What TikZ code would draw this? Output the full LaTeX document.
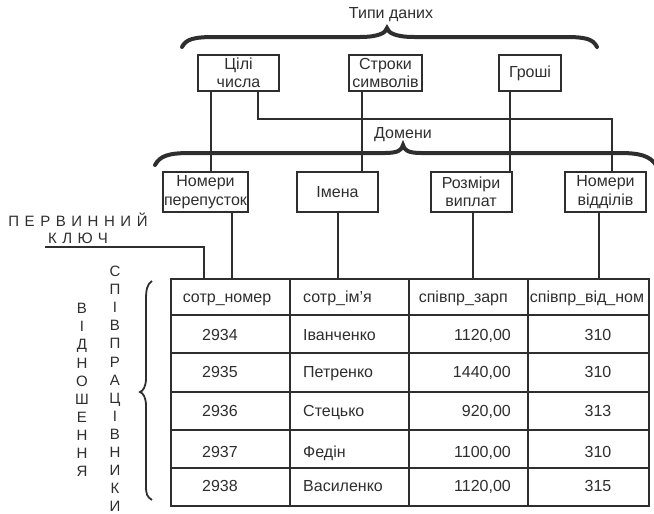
\documentclass[tikz,border=0pt]{standalone}
\usepackage{fontspec}
\setmainfont{Liberation Sans}
\newfontfamily\spacedfont[LetterSpace=37]{Liberation Sans}
\usepackage{tikz}
\usetikzlibrary{positioning}
\definecolor{ink}{HTML}{2E2E2E}

\begin{document}
\begin{tikzpicture}[
    x=1pt, y=-1pt,
    every node/.style={text=ink, font=\fontsize{16}{18.5}\selectfont},
    typebox/.style={draw=ink, line width=2pt, align=center,
                    minimum height=36pt, inner sep=1pt},
    dombox/.style={draw=ink, line width=2pt, align=center,
                   minimum width=81pt, minimum height=40pt, inner sep=1pt},
    wire/.style={draw=ink, line width=2pt},
    brace/.style={draw=ink, line width=4pt, line cap=round},
    cell/.style={inner sep=0pt, text height=11.5pt, text depth=0pt},
    letters/.style={align=center, inner sep=0pt,
                    font=\fontsize{15}{18.1}\selectfont},
]
\useasboundingbox (0,0) rectangle (654,514);

%% Типи даних
\node at (391,15) (types) {Типи даних};
\draw[brace] (182,47) .. controls (186,39) and (194,37) .. (215,37) -- (360,37)
    .. controls (378,37) and (386,33) .. (387,28)
    .. controls (388,33) and (396,37) .. (414,37) -- (565,37)
    .. controls (586,37) and (593,39) .. (597,47);
\node[typebox, minimum width=81pt] at (238.5,73) (tsili)  {Цілі\\числа};
\node[typebox, minimum width=73pt] at (385.5,73) (stroky) {Строки\\символів};
\node[typebox, minimum width=62pt] at (530,73)   (groshi) {Гроші};

%% Домени
\node at (403,135) (domains) {Домени};
\draw[brace] (155,165) .. controls (160,156) and (168,153) .. (190,153) -- (385,153)
    .. controls (398,153) and (402,150) .. (403,145)
    .. controls (404,150) and (408,153) .. (421,153) -- (620,153)
    .. controls (640,153) and (650,156) .. (656,165);
\node[dombox] at (205.5,192) (nomper) {Номери\\перепусток};
\node[dombox] at (337.5,192) (imena)  {Імена};
\node[dombox] at (471,192)   (rozmir) {Розміри\\виплат};
\node[dombox] at (605.5,192) (nomvid) {Номери\\відділів};

%% тип -> домен
\draw[wire] (tsili.south west) ++(14,0) coordinate (t1) -- (t1 |- nomper.north);
\draw[wire] (tsili.south east) ++(-22,0) coordinate (t2) -- ++(0,27)
    -| ([xshift=6pt]nomvid.north);
\draw[wire] (stroky.south) ++(-23.5,0) coordinate (t3) -- (t3 |- imena.north);
\draw[wire] (groshi.south) ++(-20,0) coordinate (t4) -- (t4 |- rozmir.north);

%% Таблиця
\node[draw=ink, line width=2.2pt, minimum width=478pt, minimum height=227pt,
      anchor=north west, inner sep=0pt] at (170,278) (tbl) {};
\foreach \ry in {315,353,392,430,468}
    \draw[wire, line width=2.2pt] (tbl.west |- 0,\ry) -- (tbl.east |- 0,\ry);
\foreach \cx in {290,409,528}
    \draw[wire, line width=2.2pt] (\cx,0 |- tbl.north) -- (\cx,0 |- tbl.south);

\node[cell] at (227,297) (h1) {сотр\_номер};
\node[cell, anchor=west] at (303,297) (h2) {сотр\_ім’я};
\node[cell, anchor=east] at (508,297) (h3) {співпр\_зарп};
\node[cell] at (587,297) (h4) {співпр\_від\_ном};

\foreach \ry/\num/\name/\pay/\dept in {
    335/2934/Іванченко/{1120,00}/310,
    372/2935/Петренко/{1440,00}/310,
    411/2936/Стецько/{920,00}/313,
    452/2937/Федін/{1100,00}/310,
    486/2938/Василенко/{1120,00}/315}{
  \node[cell] at (220,\ry) (num\num) {\num};
  \node[cell, anchor=west] at (303,\ry) (name\num) {\name};
  \node[cell, anchor=east] at (511,\ry) (pay\num) {\pay};
  \node[cell] at (598,\ry) (dept\num) {\dept};
}

%% домен -> стовпчик
\draw[wire] (nomper.south) ++(26.5,0) coordinate (d1) -- (d1 |- tbl.north);
\draw[wire] (imena.south) -- (imena.south |- tbl.north);
\draw[wire] (rozmir.south) ++(2,0) coordinate (d3) -- (d3 |- tbl.north);
\draw[wire] (nomvid.south) ++(-6.5,0) coordinate (d4) -- (d4 |- tbl.north);

%% Первинний ключ
\node[align=center, font=\fontsize{15}{17}\selectfont] at (78,228) (pkey)
    {\spacedfont ПЕРВИННИЙ\\\spacedfont КЛЮЧ};
\coordinate (keyend) at (45,247);
\draw[wire] (keyend) -| ([xshift=34pt]tbl.north west);

%% Відношення
\draw[ink, line width=1.8pt] (152,281) .. controls (147,284) and (146,290) .. (146,300)
    -- (146,378) .. controls (146,387) and (143,391) .. (140,392)
    .. controls (143,393) and (146,397) .. (146,406)
    -- (146,486) .. controls (146,494) and (147,497) .. (152,500);
\node[letters] at (82,390) (relation) {В\\І\\Д\\Н\\О\\Ш\\Е\\Н\\Н\\Я};
\node[letters] at (115,389) (staff) {С\\П\\І\\В\\П\\Р\\А\\Ц\\І\\В\\Н\\И\\К\\И};
\end{tikzpicture}
\end{document}
